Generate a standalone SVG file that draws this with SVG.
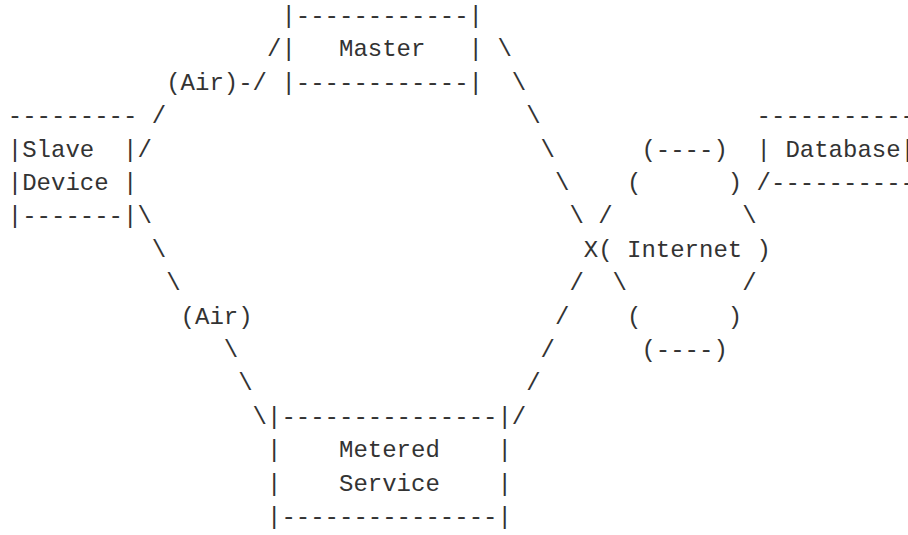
<svg xmlns="http://www.w3.org/2000/svg" width="908" height="535" viewBox="0 0 908 535">
<style>
text { font-family: "Liberation Mono", "Courier New", monospace; font-size: 24px; fill: #333; white-space: pre; }
</style>
<rect width="908" height="535" fill="#fff"/>
<g id="master">
<text x="281.4" y="23">|------------|</text>
<text x="281.4" y="56.4">|</text>
<text x="339" y="56.4">Master</text>
<text x="468.6" y="56.4">|</text>
<text x="281.4" y="89.8">|------------|</text>
</g>
<g id="slave-device">
<text x="7.8" y="123.2">---------</text>
<text x="7.8" y="156.6">|Slave</text>
<text x="123" y="156.6">|</text>
<text x="7.8" y="190">|Device</text>
<text x="123" y="190">|</text>
<text x="7.8" y="223.4">|-------|</text>
</g>
<g id="database">
<text x="756.6" y="123.2">-----------</text>
<text x="756.6" y="156.6">|</text>
<text x="785.4" y="156.6">Database|</text>
<text x="771" y="190">----------</text>
</g>
<g id="internet">
<text x="641.4" y="156.6">(----)</text>
<text x="627" y="190">(</text>
<text x="727.8" y="190">)</text>
<text x="598.2" y="223.4">/</text>
<text x="742.2" y="223.4">\</text>
<text x="598.2" y="256.8">(</text>
<text x="627" y="256.8">Internet</text>
<text x="756.6" y="256.8">)</text>
<text x="612.6" y="290.2">\</text>
<text x="742.2" y="290.2">/</text>
<text x="627" y="323.6">(</text>
<text x="727.8" y="323.6">)</text>
<text x="641.4" y="357">(----)</text>
</g>
<g id="metered-service">
<text x="267" y="423.8">|---------------|</text>
<text x="267" y="457.2">|</text>
<text x="339" y="457.2">Metered</text>
<text x="497.4" y="457.2">|</text>
<text x="267" y="490.6">|</text>
<text x="339" y="490.6">Service</text>
<text x="497.4" y="490.6">|</text>
<text x="267" y="524">|---------------|</text>
</g>
<g id="connectors">
<text x="267" y="56.4">/</text>
<text x="166.2" y="89.8">(Air)-/</text>
<text x="151.8" y="123.2">/</text>
<text x="137.4" y="156.6">/</text>
<text x="497.4" y="56.4">\</text>
<text x="511.8" y="89.8">\</text>
<text x="526.2" y="123.2">\</text>
<text x="540.6" y="156.6">\</text>
<text x="555" y="190">\</text>
<text x="569.4" y="223.4">\</text>
<text x="583.8" y="256.8">X</text>
<text x="569.4" y="290.2">/</text>
<text x="555" y="323.6">/</text>
<text x="540.6" y="357">/</text>
<text x="526.2" y="390.4">/</text>
<text x="511.8" y="423.8">/</text>
<text x="137.4" y="223.4">\</text>
<text x="151.8" y="256.8">\</text>
<text x="166.2" y="290.2">\</text>
<text x="180.6" y="323.6">(Air)</text>
<text x="223.8" y="357">\</text>
<text x="238.2" y="390.4">\</text>
<text x="252.6" y="423.8">\</text>
<text x="756.6" y="190">/</text>
</g>
</svg>
